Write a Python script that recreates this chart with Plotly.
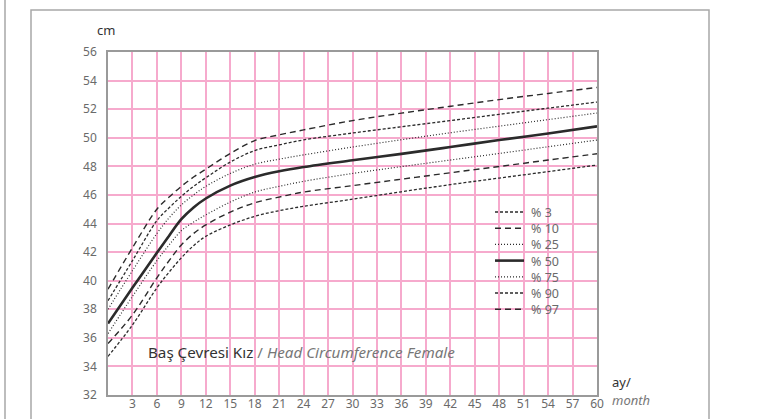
import plotly.graph_objects as go

months = [0, 3, 6, 7.5, 9, 10.5, 12, 15, 18, 21, 24, 30, 36, 42, 48, 54, 60]
p3 = [34.7, 36.9, 39.5, 40.6, 41.6, 42.45, 43.1, 43.9, 44.5, 44.9, 45.2, 45.7, 46.22, 46.72, 47.18, 47.63, 48.09]
p10 = [35.6, 37.6, 40.2, 41.4, 42.5, 43.3, 43.9, 44.8, 45.45, 45.85, 46.2, 46.65, 47.1, 47.55, 47.99, 48.44, 48.88]
p25 = [36.3, 38.9, 41.4, 42.5, 43.5, 44.1, 44.6, 45.5, 46.2, 46.6, 46.95, 47.5, 47.98, 48.44, 48.9, 49.37, 49.84]
p50 = [37.0, 39.5, 41.95, 43.15, 44.3, 45.12, 45.75, 46.65, 47.25, 47.65, 47.95, 48.42, 48.87, 49.35, 49.84, 50.3, 50.8]
p75 = [38.0, 40.7, 43.3, 44.4, 45.3, 46.0, 46.6, 47.5, 48.15, 48.5, 48.8, 49.35, 49.86, 50.35, 50.81, 51.27, 51.73]
p90 = [38.6, 41.4, 44.2, 45.1, 45.9, 46.6, 47.2, 48.3, 49.1, 49.5, 49.85, 50.33, 50.77, 51.2, 51.64, 52.07, 52.5]
p97 = [39.4, 42.3, 45.0, 45.85, 46.6, 47.25, 47.8, 48.9, 49.8, 50.2, 50.55, 51.2, 51.72, 52.2, 52.67, 53.1, 53.52]

series_names = ["% 3", "% 10", "% 25", "% 50", "% 75", "% 90", "% 97"]
series_values = [p3, p10, p25, p50, p75, p90, p97]

x_ticks = list(range(3, 61, 3))
y_ticks = list(range(32, 57, 2))

CURVE = "#2b2b2b"
PINK = "#F6AACD"
GRAY_TXT = "#6a6a6a"
FONT = "Noto Sans"

styles = {
    "% 3": dict(dash="3px,2px", width=1.3),
    "% 10": dict(dash="6px,4px", width=1.4),
    "% 25": dict(dash="1px,2px", width=1.2),
    "% 50": dict(dash="solid", width=2.6),
    "% 75": dict(dash="1px,2px", width=1.2),
    "% 90": dict(dash="3px,2px", width=1.3),
    "% 97": dict(dash="6px,4px", width=1.4),
}

W, H = 762, 419
L, R, T, B = 108, 597, 52, 395

def px(xp):
    return (xp - L) / (R - L)

def py(yp):
    return (B - yp) / (B - T)

fig = go.Figure()
for name, vals in zip(series_names, series_values):
    st = styles[name]
    fig.add_trace(go.Scatter(
        x=months, y=vals, mode="lines", name=name, showlegend=False,
        line=dict(color=CURVE, width=st["width"], dash=st["dash"], shape="spline", smoothing=1.0),
        hoverinfo="x+y+name",
    ))

shapes = []
shapes.append(dict(type="line", xref="paper", yref="paper", x0=px(5), x1=px(5), y0=py(0), y1=py(419),
                   line=dict(color="#bdbdbd", width=2)))
shapes.append(dict(type="path", xref="paper", yref="paper",
                   path=f"M {px(31)} {py(422)} L {px(31)} {py(10)} L {px(709)} {py(10)} L {px(709)} {py(422)}",
                   line=dict(color="#a8a8a8", width=1.5)))
shapes.append(dict(type="rect", xref="paper", yref="paper", layer="between",
                   x0=px(140), x1=px(531), y0=py(366), y1=py(338),
                   fillcolor="white", line=dict(width=0)))
shapes.append(dict(type="rect", xref="paper", yref="paper", layer="between",
                   x0=px(490), x1=px(568), y0=py(322), y1=py(200),
                   fillcolor="white", line=dict(width=0)))

annotations = []
leg_y0, leg_dy = 212, 16.2
for i, name in enumerate(series_names):
    yy = leg_y0 + i * leg_dy
    st = styles[name]
    shapes.append(dict(type="line", xref="paper", yref="paper", x0=px(495), x1=px(524), y0=py(yy), y1=py(yy),
                       line=dict(color=CURVE, width=st["width"], dash=st["dash"])))
    annotations.append(dict(xref="paper", yref="paper", x=px(530), y=py(yy), text=name, showarrow=False,
                            xanchor="left", yanchor="middle", height=14, borderpad=0,
                            font=dict(family=FONT, size=12.5, color=GRAY_TXT)))

annotations.append(dict(xref="paper", yref="paper", x=px(146), y=py(352),
                        text="<span style='color:#333333'>Baş Çevresi Kız</span> <span style='color:#777777'>/ <i>Head Circumference Female</i></span>",
                        showarrow=False, xanchor="left", yanchor="middle",
                        font=dict(family=FONT, size=15.2, color="#333333")))
annotations.append(dict(xref="paper", yref="paper", x=px(106), y=py(30), text="cm", showarrow=False,
                        xanchor="center", yanchor="middle", font=dict(family=FONT, size=13, color="#333333")))
annotations.append(dict(xref="paper", yref="paper", x=px(610), y=py(382), text="ay/", showarrow=False,
                        xanchor="left", yanchor="middle", font=dict(family=FONT, size=13, color="#333333")))
annotations.append(dict(xref="paper", yref="paper", x=px(610), y=py(400), text="<i>month</i>", showarrow=False,
                        xanchor="left", yanchor="middle", font=dict(family=FONT, size=13, color="#777777")))

fig.update_layout(
    width=W, height=H,
    margin=dict(l=L, r=W - R, t=T, b=H - B, pad=0, autoexpand=False),
    paper_bgcolor="white", plot_bgcolor="white",
    showlegend=False,
    shapes=shapes, annotations=annotations,
    font=dict(family=FONT, size=12, color=GRAY_TXT),
)
fig.update_xaxes(range=[0, 60], tickvals=x_ticks, ticktext=[str(v) for v in x_ticks],
                 showgrid=True, gridcolor=PINK, gridwidth=1.6, zeroline=False, automargin=False,
                 showline=True, linecolor="#9a9a9a", linewidth=1.5, mirror=True,
                 ticks="", ticklabelstandoff=-3, tickfont=dict(family=FONT, size=12, color=GRAY_TXT))
fig.update_yaxes(range=[32, 56], tickvals=y_ticks, ticktext=[str(v) for v in y_ticks],
                 showgrid=True, gridcolor=PINK, gridwidth=1.6, zeroline=False, automargin=False,
                 showline=True, linecolor="#9a9a9a", linewidth=1.5, mirror=True,
                 ticks="", ticklabelstandoff=7, tickfont=dict(family=FONT, size=12, color=GRAY_TXT))

fig.write_html("out.html", config={"displayModeBar": False},
               post_script="document.body.style.margin='0';document.body.style.overflow='hidden';")
